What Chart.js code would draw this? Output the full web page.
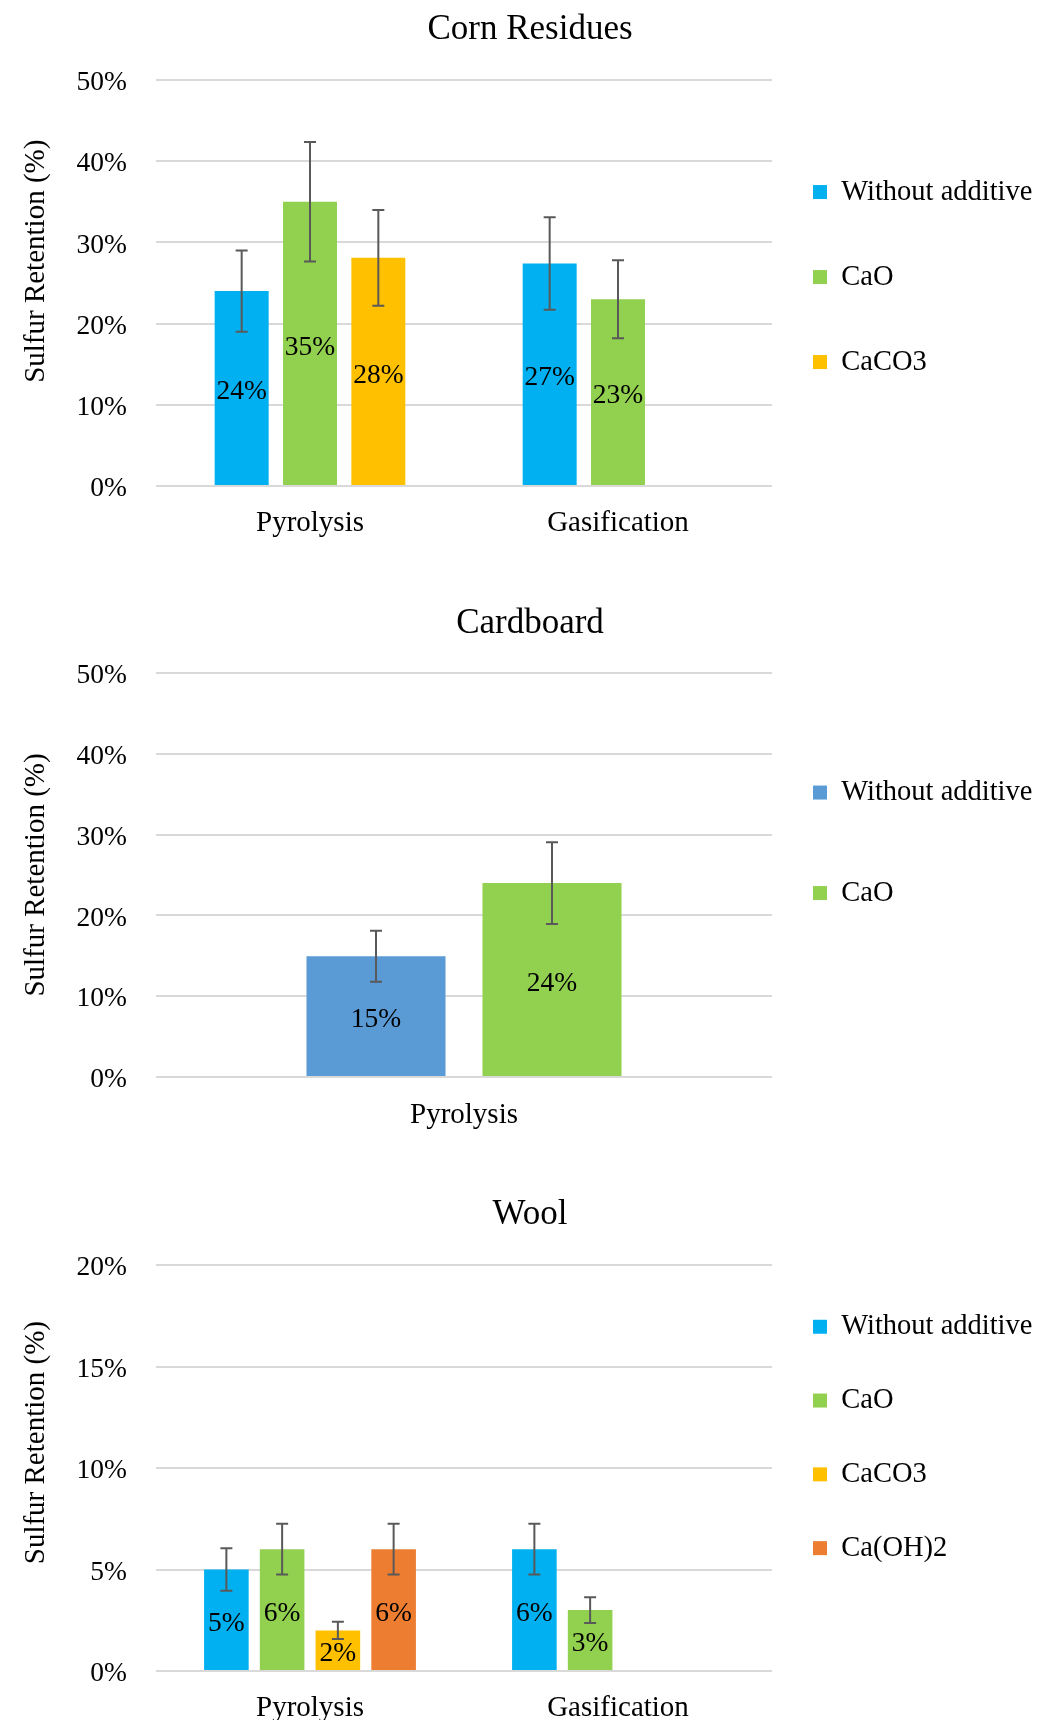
<!DOCTYPE html>
<html>
<head>
<meta charset="utf-8">
<title>Sulfur Retention</title>
<script src="https://cdn.jsdelivr.net/npm/chart.js@4.4.1/dist/chart.umd.min.js"></script>
<style>
  body { margin: 0; background: #fff; font-family: 'Liberation Serif', serif; }
  .chart-box { position: absolute; left: 0; width: 1039px; }
  canvas { display: block; }
</style>
</head>
<body>
<div class="chart-box" style="top: 0;"><canvas id="cornChart" width="1039" height="560"></canvas></div>
<div class="chart-box" style="top: 560px;"><canvas id="cardboardChart" width="1039" height="580"></canvas></div>
<div class="chart-box" style="top: 1140px;"><canvas id="woolChart" width="1039" height="580"></canvas></div>
<script>
// --- data (values in %) ---
const processCategories = ['Pyrolysis', 'Gasification'];
const cardboardCategories = ['Pyrolysis'];

const cornWithout = [24.0, 27.4];
const cornCaO = [35.0, 23.0];
const cornCaCO3 = [28.1, null];
const cornWithoutErr = [5.0, 5.7];
const cornCaOErr = [7.35, 4.8];
const cornCaCO3Err = [5.9, null];

const cardWithout = [14.95];
const cardCaO = [24.0];
const cardWithoutErr = [3.15];
const cardCaOErr = [5.05];

const woolWithout = [5.0, 6.0];
const woolCaO = [6.0, 3.0];
const woolCaCO3 = [2.0, null];
const woolCaOH2 = [6.0, null];
const woolWithoutErr = [1.05, 1.25];
const woolCaOErr = [1.25, 0.63];
const woolCaCO3Err = [0.42, null];
const woolCaOH2Err = [1.25, null];

const cornTicks = { max: 50, step: 10 };
const cardboardTicks = { max: 50, step: 10 };
const woolTicks = { max: 20, step: 5 };

const FONT = 'Liberation Serif';
Chart.defaults.font.family = FONT;
Chart.defaults.color = '#000';

// error bars + centred value labels, drawn on top of the bars
const barExtras = {
  id: 'barExtras',
  afterDatasetsDraw(chart) {
    const { ctx } = chart;
    const y = chart.scales.y;
    ctx.save();
    ctx.strokeStyle = '#595959';
    ctx.lineWidth = 2;
    chart.data.datasets.forEach((ds, i) => {
      chart.getDatasetMeta(i).data.forEach((bar, j) => {
        const v = ds.data[j];
        const e = ds.errors[j];
        if (v == null || e == null) return;
        const top = y.getPixelForValue(v + e);
        const bottom = y.getPixelForValue(v - e);
        ctx.beginPath();
        ctx.moveTo(bar.x, top); ctx.lineTo(bar.x, bottom);
        ctx.moveTo(bar.x - 6, top); ctx.lineTo(bar.x + 6, top);
        ctx.moveTo(bar.x - 6, bottom); ctx.lineTo(bar.x + 6, bottom);
        ctx.stroke();
      });
    });
    ctx.fillStyle = '#000';
    ctx.font = '27.5px "Liberation Serif"';
    ctx.textAlign = 'center';
    ctx.textBaseline = 'middle';
    chart.data.datasets.forEach((ds, i) => {
      chart.getDatasetMeta(i).data.forEach((bar, j) => {
        const v = ds.data[j];
        if (v == null) return;
        // canvas 'middle' sits a little above the cap centre for this font
        ctx.fillText(Math.round(v) + '%', bar.x, (bar.y + bar.base) / 2 + 4);
      });
    });
    ctx.restore();
  }
};

function buildChart(id, cfg) {
  const canvas = document.getElementById(id);
  const H = canvas.height;
  return new Chart(canvas, {
    type: 'bar',
    data: {
      labels: cfg.categories,
      datasets: cfg.series.map(s => ({
        label: s.name,
        data: s.values,
        errors: s.errors,
        backgroundColor: s.color,
        borderWidth: 0,
        categoryPercentage: cfg.catPct,
        barPercentage: cfg.barPct
      }))
    },
    options: {
      responsive: false,
      animation: false,
      layout: { padding: { left: 21, right: 0, top: 0, bottom: 0 } },
      scales: {
        x: {
          grid: { display: false, drawTicks: false },
          border: { display: false },
          ticks: { padding: cfg.xPad, font: { family: FONT, size: 29 }, color: '#000' },
          afterFit: s => { s.height = H - cfg.areaBottom; }
        },
        y: {
          min: 0,
          max: cfg.ticks.max,
          ticks: {
            stepSize: cfg.ticks.step,
            padding: 29,
            labelOffset: 3,
            font: { family: FONT, size: 27.5 },
            color: '#000',
            callback: v => v + '%'
          },
          grid: { color: '#d9d9d9', lineWidth: 2, drawTicks: false },
          border: { display: false },
          title: {
            display: true,
            text: ' '.repeat(cfg.yTitleShift) + 'Sulfur Retention (%)',
            font: { family: FONT, size: 29 },
            color: '#000',
            padding: { top: -2, bottom: 0 }
          },
          afterFit: s => { s.width = 135; }
        }
      },
      plugins: {
        title: {
          display: true,
          text: cfg.title,
          font: { family: FONT, size: 35, weight: 'normal' },
          color: '#000',
          padding: { top: cfg.titleTop, bottom: cfg.areaTop - cfg.titleTop - 42 }
        },
        legend: {
          position: 'right',
          align: 'start',
          maxWidth: 267,
          title: { display: true, text: '', font: { size: 10, lineHeight: cfg.legendTop + 'px' }, padding: 0 },
          labels: {
            boxWidth: 14,
            boxHeight: 14,
            padding: 41,
            color: '#000',
            font: { family: FONT, size: 28.5, lineHeight: cfg.legendStep + 'px' },
            generateLabels: chart => {
              const items = Chart.defaults.plugins.legend.labels.generateLabels(chart);
              items.forEach(it => { it.text = [it.text]; });
              return items;
            }
          }
        },
        tooltip: { enabled: false }
      }
    },
    plugins: [barExtras]
  });
}

buildChart('cornChart', {
  title: 'Corn Residues',
  categories: processCategories,
  series: [
    { name: 'Without additive', values: cornWithout, errors: cornWithoutErr, color: '#00B0F0' },
    { name: 'CaO', values: cornCaO, errors: cornCaOErr, color: '#92D050' },
    { name: 'CaCO3', values: cornCaCO3, errors: cornCaCO3Err, color: '#FFC000' }
  ],
  ticks: cornTicks,
  catPct: 0.6656, barPct: 0.79,
  titleTop: 9, areaTop: 80, areaBottom: 486, xPad: 20,
  legendTop: 136.8, legendStep: 44, yTitleShift: 6
});

buildChart('cardboardChart', {
  title: 'Cardboard',
  categories: cardboardCategories,
  series: [
    { name: 'Without additive', values: cardWithout, errors: cardWithoutErr, color: '#5B9BD5' },
    { name: 'CaO', values: cardCaO, errors: cardCaOErr, color: '#92D050' }
  ],
  ticks: cardboardTicks,
  catPct: 0.5714, barPct: 0.79,
  titleTop: 42.5, areaTop: 113, areaBottom: 517, xPad: 20.5,
  legendTop: 177.3, legendStep: 59.5, yTitleShift: 0
});

buildChart('woolChart', {
  title: 'Wool',
  categories: processCategories,
  series: [
    { name: 'Without additive', values: woolWithout, errors: woolWithoutErr, color: '#00B0F0' },
    { name: 'CaO', values: woolCaO, errors: woolCaOErr, color: '#92D050' },
    { name: 'CaCO3', values: woolCaCO3, errors: woolCaCO3Err, color: '#FFC000' },
    { name: 'Ca(OH)2', values: woolCaOH2, errors: woolCaOH2Err, color: '#ED7D31' }
  ],
  ticks: woolTicks,
  catPct: 0.724, barPct: 0.80,
  titleTop: 53.5, areaTop: 125, areaBottom: 531, xPad: 19.5,
  legendTop: 131.5, legendStep: 32.8, yTitleShift: 7
});
</script>
</body>
</html>
